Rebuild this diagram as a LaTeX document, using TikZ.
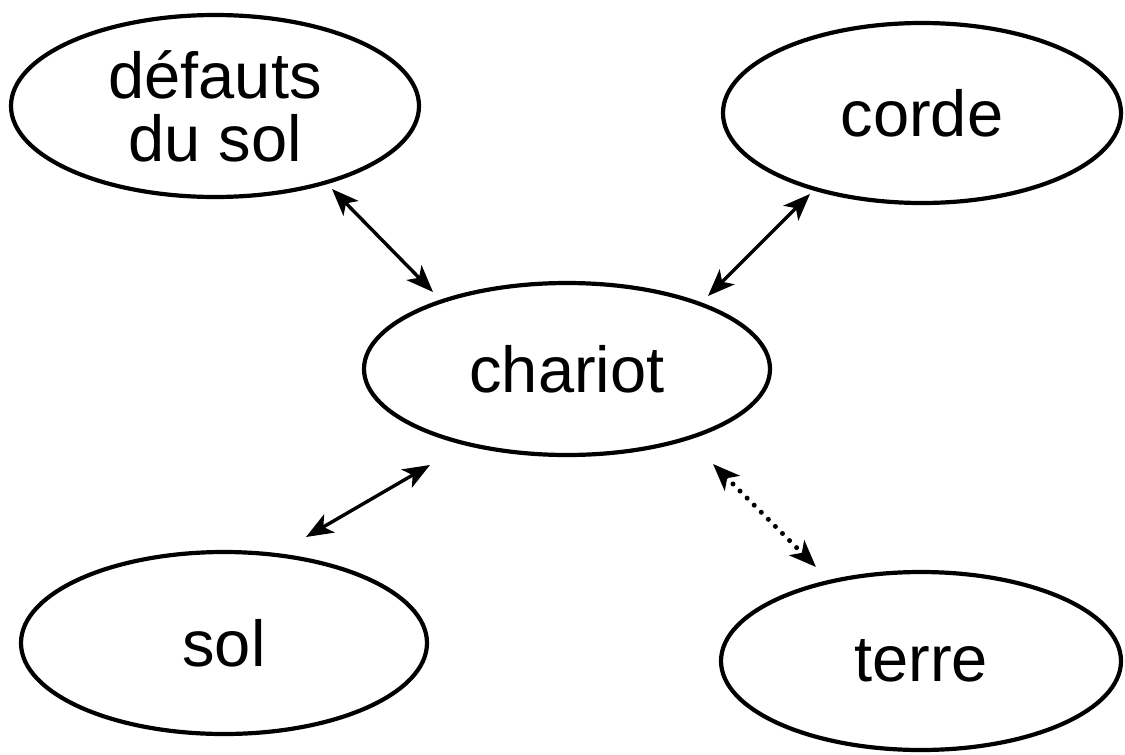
\documentclass[tikz,border=0pt]{standalone}
\usepackage{fontspec}
\setmainfont{Liberation Sans}
\usetikzlibrary{shapes.geometric,arrows.meta}
\begin{document}
\begin{tikzpicture}[x=1pt,y=-1pt,
  concept/.style={ellipse, draw, line width=4.2pt, inner sep=0pt, align=center,
    font=\fontsize{65}{63}\selectfont},
  link/.style={line width=3.4pt, {Stealth[length=27pt,width=21pt,inset=7pt]}-{Stealth[length=27pt,width=21pt,inset=7pt]}},
  dotlink/.style={link, line width=5pt, line cap=round, dash pattern=on 0pt off 10pt}]
\useasboundingbox (0,0) rectangle (1125,755);
\node[concept, minimum width=408pt, minimum height=182pt] (def) at (215,106) {défauts\\du sol};
\node[concept, minimum width=398pt, minimum height=180pt] (corde) at (922,113) {corde};
\node[concept, minimum width=406pt, minimum height=172pt] (chariot) at (567,369) {chariot};
\node[concept, minimum width=406pt, minimum height=182pt] (sol) at (224,643) {sol};
\node[concept, minimum width=400pt, minimum height=178pt] (terre) at (921,661) {terre};
\coordinate (a1) at (332,189);
\coordinate (a2) at (433,292);
\coordinate (b1) at (810,194);
\coordinate (b2) at (708,296);
\coordinate (c1) at (430,465);
\coordinate (c2) at (306,537);
\coordinate (d1) at (713,464);
\coordinate (d2) at (816,567);
\draw[link] (a1) -- (a2);
\draw[link] (b1) -- (b2);
\draw[link] (c1) -- (c2);
\draw[dotlink] (d1) -- (d2);
\end{tikzpicture}
\end{document}
